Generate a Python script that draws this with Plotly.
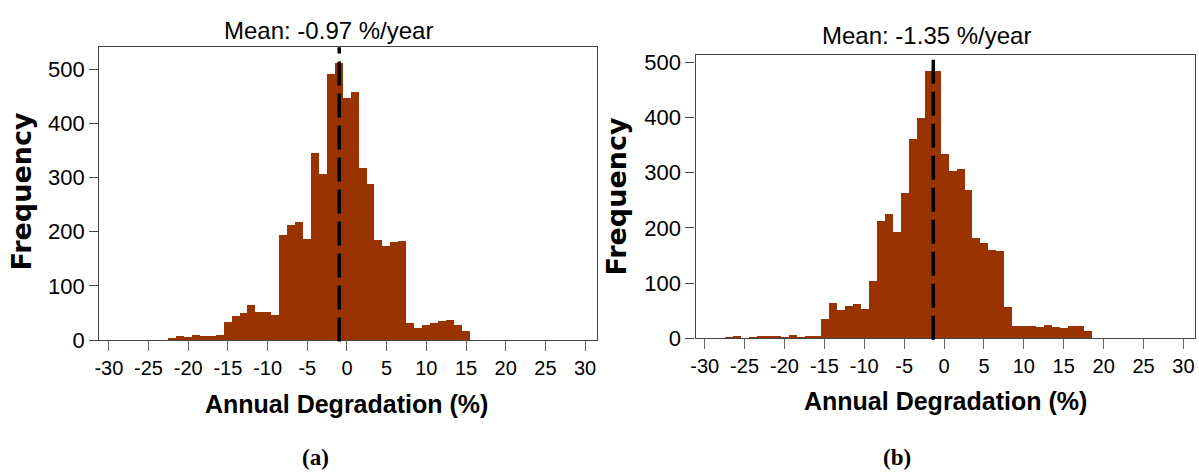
import plotly.graph_objects as go

# ---------------- data ----------------
bins_a = list(range(-22, 16))
counts_a = [4, 7, 5, 9, 7, 7, 9,
            33, 44, 49, 64, 52, 51, 45,
            193, 212, 217, 186, 346, 307, 492, 511,
            446, 457, 317, 288, 184, 174, 181, 182,
            30, 22, 27, 31, 35, 37, 27, 16]
mean_a = -0.97

bins_b = list(range(-27, 19))
counts_b = [2, 4, 0, 2, 4, 4, 4, 2, 6, 2, 4, 4,
            36, 65, 52, 59, 62, 53, 104,
            214, 226, 193, 263, 362, 400, 485, 485,
            335, 303, 307, 269, 183, 174, 161, 158,
            58, 22, 22, 22, 21, 25, 21, 19, 22, 22, 14]
mean_b = -1.35

x_tickvals = [-30, -25, -20, -15, -10, -5, 0, 5, 10, 15, 20, 25, 30]
x_ticktext = ["-30", "-25", "-20", "-15", "-10", "-5", "0", "5", "10", "15", "20", "25", "30"]
y_tickvals = [0, 100, 200, 300, 400, 500]
y_ticktext = ["0", "100", "200", "300", "400", "500"]

title_a = "Mean: -0.97 %/year"
title_b = "Mean: -1.35 %/year"
xlabel = "Annual Degradation (%)"
ylabel = "Frequency"
caption_a = "(a)"
caption_b = "(b)"

# ---------------- style ----------------
W, H = 1199, 473
BAR = "#993300"
SANS = "Liberation Sans, Arial, sans-serif"

def px(x):
    return x / W

def py(y):
    return 1 - y / H

fig = go.Figure()
fig.add_trace(go.Bar(x=bins_a, y=counts_a, width=1, marker=dict(color=BAR, line=dict(width=0)),
                     xaxis="x", yaxis="y", showlegend=False))
fig.add_trace(go.Bar(x=bins_b, y=counts_b, width=1, marker=dict(color=BAR, line=dict(width=0)),
                     xaxis="x2", yaxis="y2", showlegend=False))

common_x = dict(tickmode="array", tickvals=x_tickvals, ticktext=x_ticktext,
                ticks="outside", ticklen=10, tickwidth=1.3, tickcolor="#666",
                showline=True, linecolor="#444", linewidth=1.3, mirror=True,
                showgrid=False, zeroline=False, automargin=False,
                tickfont=dict(family=SANS, size=20, color="#000"))
common_y = dict(tickmode="array", tickvals=y_tickvals, ticktext=y_ticktext,
                ticks="outside", ticklen=9, tickwidth=1.3, tickcolor="#444",
                showline=True, linecolor="#444", linewidth=1.3, mirror=True,
                showgrid=False, zeroline=False, automargin=False,
                tickfont=dict(family=SANS, size=22, color="#000"))

fig.update_layout(
    template="none",
    width=W, height=H, margin=dict(l=0, r=0, t=0, b=0, pad=0),
    paper_bgcolor="white", plot_bgcolor="white", bargap=0,
    xaxis=dict(domain=[px(99.3), px(597)], range=[-31.2, 31.5], anchor="y", **common_x),
    yaxis=dict(domain=[py(340), py(47.3)], range=[0, 541], anchor="x", **common_y),
    xaxis2=dict(domain=[px(695.5), px(1195)], range=[-31.15, 31.45], anchor="y2", **common_x),
    yaxis2=dict(domain=[py(338.3), py(54.7)], range=[0, 514], anchor="x2", **common_y),
)

# mean lines
for xr, yr, m in [("x", "y domain", mean_a), ("x2", "y2 domain", mean_b)]:
    fig.add_shape(type="line", xref=xr, yref=yr, x0=m, x1=m, y0=-0.005, y1=1,
                  line=dict(color="black", width=3.5, dash="24px,8px"))

ann = []
def text(t, x, y, size, family, bold=False, angle=0):
    ann.append(dict(text=("<b>%s</b>" % t) if bold else t, x=px(x), y=py(y),
                    xref="paper", yref="paper", showarrow=False, textangle=angle,
                    xanchor="center", yanchor="middle",
                    font=dict(family=family, size=size, color="#000")))

text(title_a, 328, 30, 24, SANS)
text(title_b, 926.6, 36, 24, SANS)
text(xlabel, 346.5, 404, 25, SANS, bold=True)
text(xlabel, 945, 401, 25, SANS, bold=True)
text(ylabel, 21, 191.5, 27, "DejaVu Sans", bold=True, angle=-90)
text(ylabel, 616, 196.5, 27, "DejaVu Sans", bold=True, angle=-90)
text(caption_a, 315, 457, 23, "Liberation Serif, DejaVu Serif, serif", bold=True)
text(caption_b, 897, 457, 23, "Liberation Serif, DejaVu Serif, serif", bold=True)
fig.update_layout(annotations=ann)

fig.write_html("out.html")
